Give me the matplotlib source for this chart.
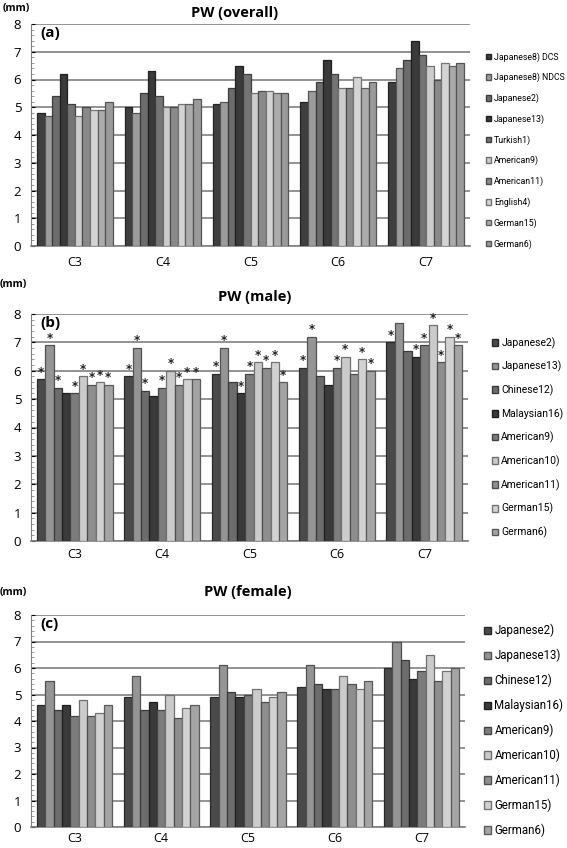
import matplotlib.pyplot as plt
import numpy as np
from matplotlib.patches import Patch

W, H = 567, 848

levels = ["C3", "C4", "C5", "C6", "C7"]

# (a) overall
overall_names = ["Japanese8) DCS", "Japanese8) NDCS", "Japanese2)", "Japanese13)",
                 "Turkish1)", "American9)", "American11)", "English4)",
                 "German15)", "German6)"]
overall_colors = ["#3f3f3f", "#9c9c9c", "#6c6c6c", "#3a3a3a", "#747474",
                  "#cccccc", "#8a8a8a", "#d4d4d4", "#ababab", "#9a9a9a"]
overall_c3 = [4.8, 4.7, 5.4, 6.2, 5.1, 4.7, 5.0, 4.9, 4.9, 5.2]
overall_c4 = [5.0, 4.8, 5.5, 6.3, 5.4, 5.0, 5.0, 5.1, 5.1, 5.3]
overall_c5 = [5.1, 5.2, 5.7, 6.5, 6.2, 5.5, 5.6, 5.6, 5.5, 5.5]
overall_c6 = [5.2, 5.6, 5.9, 6.7, 6.2, 5.7, 5.7, 6.1, 5.7, 5.9]
overall_c7 = [5.9, 6.4, 6.7, 7.4, 6.9, 6.5, 6.0, 6.6, 6.5, 6.6]

# (b) male / (c) female
sex_names = ["Japanese2)", "Japanese13)", "Chinese12)", "Malaysian16)", "American9)",
             "American10)", "American11)", "German15)", "German6)"]
sex_colors = ["#4a4a4a", "#959595", "#6c6c6c", "#3a3a3a", "#7c7c7c",
              "#cbcbcb", "#8e8e8e", "#d2d2d2", "#a4a4a4"]
male_c3 = [5.7, 6.9, 5.4, 5.2, 5.2, 5.8, 5.5, 5.6, 5.5]
male_c4 = [5.8, 6.8, 5.3, 5.1, 5.4, 6.0, 5.5, 5.7, 5.7]
male_c5 = [5.9, 6.8, 5.6, 5.2, 5.9, 6.3, 6.1, 6.3, 5.6]
male_c6 = [6.1, 7.2, 5.8, 5.5, 6.1, 6.5, 5.9, 6.4, 6.0]
male_c7 = [7.0, 7.7, 6.7, 6.5, 6.9, 7.6, 6.3, 7.2, 6.9]
# significance marks (1 = asterisk)
star_c3 = [1, 1, 1, 0, 1, 1, 1, 1, 1]
star_c4 = [1, 1, 1, 0, 1, 1, 1, 1, 1]
star_c5 = [1, 1, 0, 1, 1, 1, 1, 1, 1]
star_c6 = [1, 1, 0, 0, 1, 1, 0, 1, 1]
star_c7 = [1, 0, 0, 1, 1, 1, 1, 1, 1]

female_c3 = [4.6, 5.5, 4.4, 4.6, 4.2, 4.8, 4.2, 4.3, 4.6]
female_c4 = [4.9, 5.7, 4.4, 4.7, 4.4, 5.0, 4.1, 4.5, 4.6]
female_c5 = [4.9, 6.1, 5.1, 4.9, 5.0, 5.2, 4.7, 4.9, 5.1]
female_c6 = [5.3, 6.1, 5.4, 5.2, 5.2, 5.7, 5.4, 5.2, 5.5]
female_c7 = [6.0, 7.0, 6.3, 5.6, 5.9, 6.5, 5.5, 5.9, 6.0]


def darker(c, f=0.55):
    v = int(c[1:3], 16) * f
    return "#%02x%02x%02x" % (int(v), int(v), int(v))


def px(x0, y0, x1, y1):
    # pixel box -> figure fraction rect
    return [x0 / W, 1 - y1 / H, (x1 - x0) / W, (y1 - y0) / H]


def panel(rect, data, names, colors, tag, title, title_xy, mm_xy, leg_xy,
          leg_font, leg_space, xpad, stars=None):
    ax = fig.add_axes(rect)
    data = np.array(data)
    n = len(names)
    x = np.arange(len(levels))
    w = 0.865 / n
    for i in range(n):
        pos = x - 0.865 / 2 + w * (i + 0.5)
        ax.bar(pos, data[:, i], width=w, color=colors[i],
               edgecolor=darker(colors[i]), linewidth=0.9, zorder=3)
        if stars is not None:
            for j in range(len(levels)):
                if stars[j][i]:
                    ax.text(pos[j], data[j, i] + 0.02, "*", ha="center", va="bottom",
                            fontsize=8.5, fontweight="bold", family="DejaVu Sans",
                            color="#222222", zorder=5)
    ax.set_xlim(-0.5, len(levels) - 0.5)
    ax.set_ylim(0, 8)
    ax.set_yticks(range(9))
    ax.set_yticks(np.arange(0, 8.01, 0.2), minor=True)
    ax.yaxis.grid(True, color="#808080", linewidth=1.2, zorder=0)
    ax.set_axisbelow(True)
    ax.set_xticks(x)
    ax.set_xticklabels(levels)
    ax.tick_params(axis="x", length=0, pad=xpad, labelsize=9)
    ax.tick_params(axis="y", which="major", length=3, direction="in", labelsize=9.5, pad=7)
    ax.tick_params(axis="y", which="minor", length=2.5, direction="in", color="#888888")
    for s in ["top", "right"]:
        ax.spines[s].set_visible(False)
    ax.spines["left"].set_color("#808080")
    ax.spines["bottom"].set_color("#808080")
    ax.spines["bottom"].set_linewidth(1.2)
    ax.text(0.022, 0.99, tag, transform=ax.transAxes, ha="left", va="top",
            fontsize=11, fontweight="bold")
    fig.text(title_xy[0] / W, 1 - title_xy[1] / H, title, ha="center", va="center",
             fontsize=10.5, fontweight="bold")
    fig.text(mm_xy[0] / W, 1 - mm_xy[1] / H, "(mm)", ha="left", va="center",
             fontsize=7.5, fontweight="bold")
    handles = [Patch(facecolor=colors[i], edgecolor=darker(colors[i]), label=names[i])
               for i in range(n)]
    fig.legend(handles=handles, loc="upper left",
               bbox_to_anchor=(leg_xy[0] / W, 1 - leg_xy[1] / H),
               frameon=False, labelspacing=leg_space,
               handlelength=0.6, handleheight=0.6, handletextpad=0.3,
               borderpad=0, borderaxespad=0,
               prop={"family": ["Roboto", "DejaVu Sans"], "size": leg_font})
    return ax


plt.rcParams["font.family"] = ["Open Sans", "DejaVu Sans"]
fig = plt.figure(figsize=(W / 100, H / 100), dpi=100)

panel(px(31, 24, 470, 246),
      [overall_c3, overall_c4, overall_c5, overall_c6, overall_c7],
      overall_names, overall_colors, "(a)", "PW (overall)", (235, 13), (3, 9),
      (486, 52), 6.3, 1.28, 7)

panel(px(31, 314, 468, 541),
      [male_c3, male_c4, male_c5, male_c6, male_c7],
      sex_names, sex_colors, "(b)", "PW (male)", (255, 297), (0, 285),
      (492, 337), 7.5, 1.17, 5,
      stars=[star_c3, star_c4, star_c5, star_c6, star_c7])

panel(px(31, 615, 465, 827),
      [female_c3, female_c4, female_c5, female_c6, female_c7],
      sex_names, sex_colors, "(c)", "PW (female)", (248, 592), (0, 593),
      (484, 624), 8.3, 1.0, 3.5)

fig.savefig("out.png", dpi=100)
